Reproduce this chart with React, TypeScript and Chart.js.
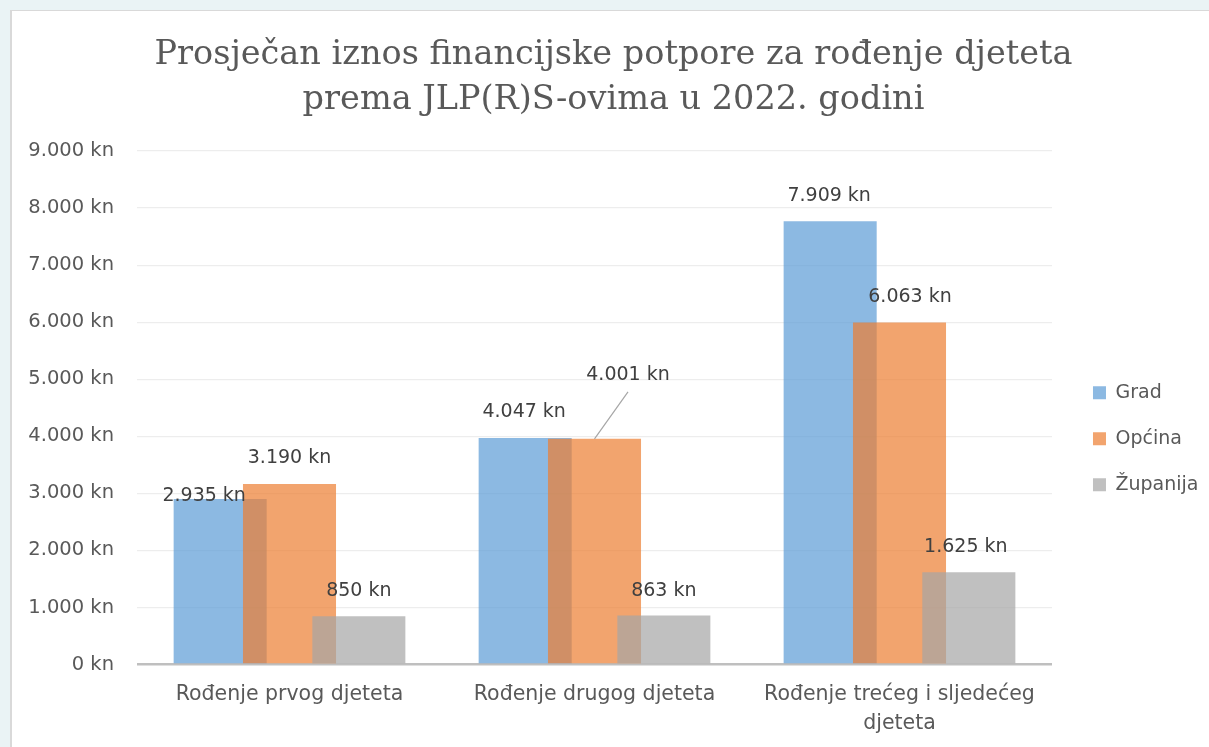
import React, { useEffect, useRef } from 'react';
import { Chart, registerables } from 'chart.js';

Chart.register(...registerables);

// ---------- data ----------
const categories: (string | string[])[] = [
  'Rođenje prvog djeteta',
  'Rođenje drugog djeteta',
  ['Rođenje trećeg i sljedećeg', 'djeteta'],
];
const seriesNames = ['Grad', 'Općina', 'Županija'];
// bar heights as drawn in the picture
const gradValues = [2900, 3970, 7770];
const opcinaValues = [3165, 3955, 5995];
const zupanijaValues = [845, 861, 1617];
// values printed in the data labels
const gradLabelValues = [2935, 4047, 7909];
const opcinaLabelValues = [3190, 4001, 6063];
const zupanijaLabelValues = [850, 863, 1625];
const yTickMin = 0;
const yTickMax = 9000;
const yTickStep = 1000;
const titleLines = [
  'Prosječan iznos financijske potpore za rođenje djeteta',
  'prema JLP(R)S-ovima u 2022. godini',
];

// ---------- styles ----------
const seriesColors = [
  'rgba(91,155,213,0.7)',
  'rgba(237,125,49,0.7)',
  'rgba(165,165,165,0.7)',
];
// label placement relative to the top-centre of each bar
const labelOffsets = [
  [[-16, -3], [-1, -25.5], [-1, -25]],
  [[0, -26], [33.5, -64], [10.5, -25]],
  [[0, -25], [0, -24], [-3, -25]],
];
const leaderLines: [number, number][] = [[1, 1]];
const SANS = '"DejaVu Sans", sans-serif';

const fmtKn = (v: number) =>
  String(Math.round(v)).replace(/\B(?=(\d{3})+(?!\d))/g, '.') + ' kn';

const labelValueSets = [gradLabelValues, opcinaLabelValues, zupanijaLabelValues];

const orderedDrawPlugin = {
  id: 'orderedDraw',
  beforeDatasetsDraw(chart: any) {
    const ctx = chart.ctx as CanvasRenderingContext2D;
    const a = chart.chartArea;
    ctx.save();
    ctx.beginPath();
    ctx.rect(a.left, a.top, a.right - a.left, a.bottom - a.top);
    ctx.clip();
    for (let i = 0; i < chart.data.datasets.length; i++) {
      const meta = chart.getDatasetMeta(i);
      if (!meta.hidden) meta.controller.draw();
    }
    ctx.restore();

    ctx.save();
    ctx.font = '19px ' + SANS;
    ctx.fillStyle = '#404040';
    ctx.textAlign = 'center';
    ctx.textBaseline = 'middle';
    for (let i = 0; i < chart.data.datasets.length; i++) {
      const meta = chart.getDatasetMeta(i);
      meta.data.forEach((el: any, j: number) => {
        const [dx, dy] = labelOffsets[i][j];
        const lx = el.x + dx;
        const ly = el.y + dy;
        if (leaderLines.some(([di, pj]) => di === i && pj === j)) {
          ctx.save();
          ctx.strokeStyle = '#A6A6A6';
          ctx.lineWidth = 1.2;
          ctx.beginPath();
          ctx.moveTo(el.x, el.y);
          ctx.lineTo(lx, ly + 17);
          ctx.stroke();
          ctx.restore();
        }
        ctx.fillText(fmtKn(labelValueSets[i][j]), lx, ly);
      });
    }
    ctx.restore();
    return false;
  },
};

function ChartView() {
  const ref = useRef<HTMLCanvasElement>(null);
  useEffect(() => {
    if (!ref.current) return;
    const chart = new Chart(ref.current, {
      type: 'bar',
      data: {
        labels: categories,
        datasets: [
          { label: seriesNames[0], data: gradValues, backgroundColor: seriesColors[0], borderWidth: 0 },
          { label: seriesNames[1], data: opcinaValues, backgroundColor: seriesColors[1], borderWidth: 0 },
          { label: seriesNames[2], data: zupanijaValues, backgroundColor: seriesColors[2], borderWidth: 0 },
        ],
      },
      options: {
        animation: false,
        responsive: false,
        maintainAspectRatio: false,
        devicePixelRatio: 1,
        categoryPercentage: 0.682,
        barPercentage: 1.342,
        layout: { padding: { left: 6.5, right: 8.5, top: 0, bottom: 15.5 } },
        plugins: {
          tooltip: { enabled: false },
          title: {
            display: true,
            text: titleLines,
            color: '#595959',
            font: { family: '"DejaVu Serif", serif', size: 33.5, weight: 'normal', lineHeight: 45 / 33.5 },
            padding: { top: 20.5, bottom: 28.5 },
          },
          legend: {
            position: 'right',
            align: 'center',
            fullSize: false,
            title: { display: true, text: ' ', font: { size: 10, lineHeight: 1 }, padding: { top: 0, bottom: 52 } },
            labels: {
              boxWidth: 13,
              boxHeight: 13,
              padding: 27,
              color: '#595959',
              font: { family: SANS, size: 19 },
            },
          },
        },
        scales: {
          x: {
            grid: { display: false, drawTicks: false },
            border: { display: false },
            ticks: {
              color: '#595959',
              font: { family: SANS, size: 20.5, lineHeight: 29 / 20.5 },
              padding: 15.5,
              maxRotation: 0,
              minRotation: 0,
              autoSkip: false,
            },
          },
          y: {
            min: yTickMin,
            max: yTickMax,
            afterFit: (s: any) => {
              s.width = 118.5;
            },
            ticks: {
              stepSize: yTickStep,
              color: '#595959',
              font: { family: SANS, size: 19.5 },
              padding: 23,
              callback: (v: any) => fmtKn(Number(v)),
            },
            grid: {
              drawTicks: false,
              color: (c: any) => (c.tick && c.tick.value === 0 ? '#BFBFBF' : '#EDEDED'),
              lineWidth: (c: any) => (c.tick && c.tick.value === 0 ? 2.5 : 1.2),
            },
            border: { display: false },
          },
          yRightSpacer: {
            position: 'right',
            display: true,
            min: 0,
            max: 1,
            grid: { display: false, drawTicks: false },
            border: { display: false },
            ticks: { display: false },
            afterFit: (s: any) => {
              s.width = 14;
            },
          },
        },
      },
      plugins: [orderedDrawPlugin],
    } as any);
    return () => chart.destroy();
  }, []);
  return <canvas ref={ref} width={1205} height={757} style={{ display: 'block', width: 1205, height: 757 }} />;
}

export default function App() {
  return (
    <div style={{ position: 'fixed', inset: 0, overflow: 'hidden', background: '#EAF3F5' }}>
      <div
        style={{
          position: 'absolute',
          left: 10,
          top: 10,
          width: 1230,
          height: 800,
          background: '#FFFFFF',
          borderLeft: '2px solid #D9D9D9',
          borderTop: '1px solid #D9D9D9',
          boxSizing: 'border-box',
        }}
      >
        <div style={{ position: 'absolute', left: 0, top: 1 }}>
          <ChartView />
        </div>
      </div>
    </div>
  );
}
